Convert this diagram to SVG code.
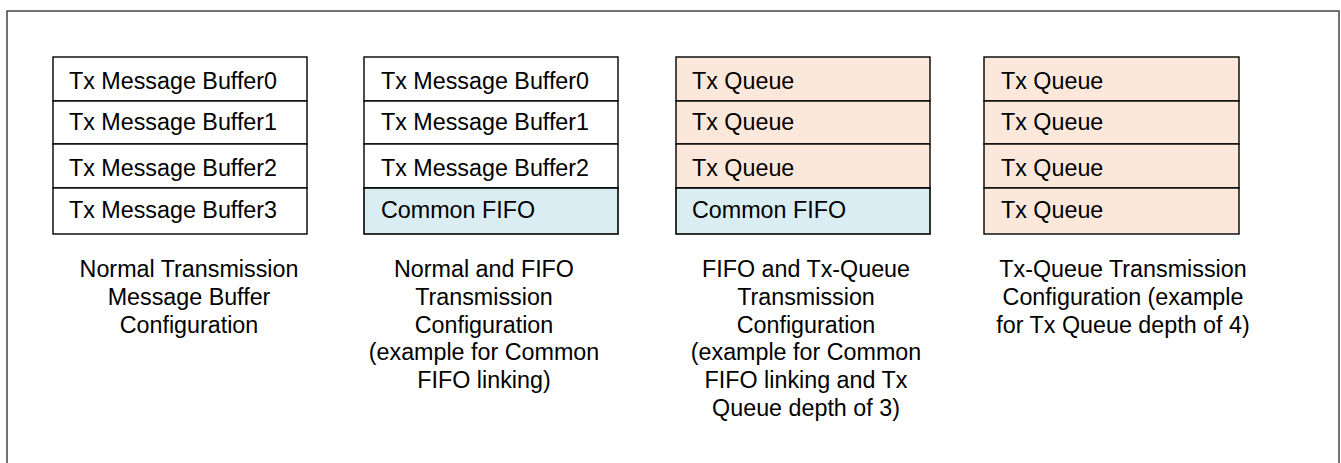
<svg xmlns="http://www.w3.org/2000/svg" width="1341" height="463" viewBox="0 0 1341 463">
<style>
.frame{fill:none;stroke:#444;stroke-width:1.5}
.w{fill:#fff;stroke:#000;stroke-width:1.4}
.q{fill:#fbe8da;stroke:#000;stroke-width:1.4}
.f{fill:#daedf3;stroke:#000;stroke-width:1.6}
text{font-family:"Liberation Sans",Arial,sans-serif;font-size:23.3px;fill:#000}
.c{text-anchor:middle}
</style>
<rect x="0" y="0" width="1341" height="463" fill="#fff"/>
<rect class="frame" x="7" y="11" width="1332" height="470"/>
<g id="config1">
<rect class="w" x="53" y="57" width="254" height="44"/>
<rect class="w" x="53" y="101" width="254" height="43"/>
<rect class="w" x="53" y="144" width="254" height="44"/>
<rect class="w" x="53" y="188" width="254" height="46"/>
<text x="69" y="89">Tx Message Buffer0</text>
<text x="69" y="130">Tx Message Buffer1</text>
<text x="69" y="176">Tx Message Buffer2</text>
<text x="69" y="218">Tx Message Buffer3</text>
<text class="c" x="189" y="277">Normal Transmission</text>
<text class="c" x="189" y="305">Message Buffer</text>
<text class="c" x="189" y="333">Configuration</text>
</g>
<g id="config2">
<rect class="w" x="364" y="57" width="254" height="44"/>
<rect class="w" x="364" y="101" width="254" height="43"/>
<rect class="w" x="364" y="144" width="254" height="44"/>
<rect class="f" x="364" y="188" width="254" height="46"/>
<text x="381" y="89">Tx Message Buffer0</text>
<text x="381" y="130">Tx Message Buffer1</text>
<text x="381" y="176">Tx Message Buffer2</text>
<text x="381" y="218">Common FIFO</text>
<text class="c" x="484" y="277">Normal and FIFO</text>
<text class="c" x="484" y="305">Transmission</text>
<text class="c" x="484" y="333">Configuration</text>
<text class="c" x="484" y="360">(example for Common</text>
<text class="c" x="484" y="388">FIFO linking)</text>
</g>
<g id="config3">
<rect class="q" x="676" y="57" width="254" height="44"/>
<rect class="q" x="676" y="101" width="254" height="43"/>
<rect class="q" x="676" y="144" width="254" height="44"/>
<rect class="f" x="676" y="188" width="254" height="46"/>
<text x="692" y="89">Tx Queue</text>
<text x="692" y="130">Tx Queue</text>
<text x="692" y="176">Tx Queue</text>
<text x="692" y="218">Common FIFO</text>
<text class="c" x="806" y="277">FIFO and Tx-Queue</text>
<text class="c" x="806" y="305">Transmission</text>
<text class="c" x="806" y="333">Configuration</text>
<text class="c" x="806" y="360">(example for Common</text>
<text class="c" x="806" y="388">FIFO linking and Tx</text>
<text class="c" x="806" y="416">Queue depth of 3)</text>
</g>
<g id="config4">
<rect class="q" x="984" y="57" width="255" height="44"/>
<rect class="q" x="984" y="101" width="255" height="43"/>
<rect class="q" x="984" y="144" width="255" height="44"/>
<rect class="q" x="984" y="188" width="255" height="46"/>
<text x="1001" y="89">Tx Queue</text>
<text x="1001" y="130">Tx Queue</text>
<text x="1001" y="176">Tx Queue</text>
<text x="1001" y="218">Tx Queue</text>
<text class="c" x="1123" y="277">Tx-Queue Transmission</text>
<text class="c" x="1123" y="305">Configuration (example</text>
<text class="c" x="1123" y="333">for Tx Queue depth of 4)</text>
</g>
<g id="connectors"></g>
</svg>
